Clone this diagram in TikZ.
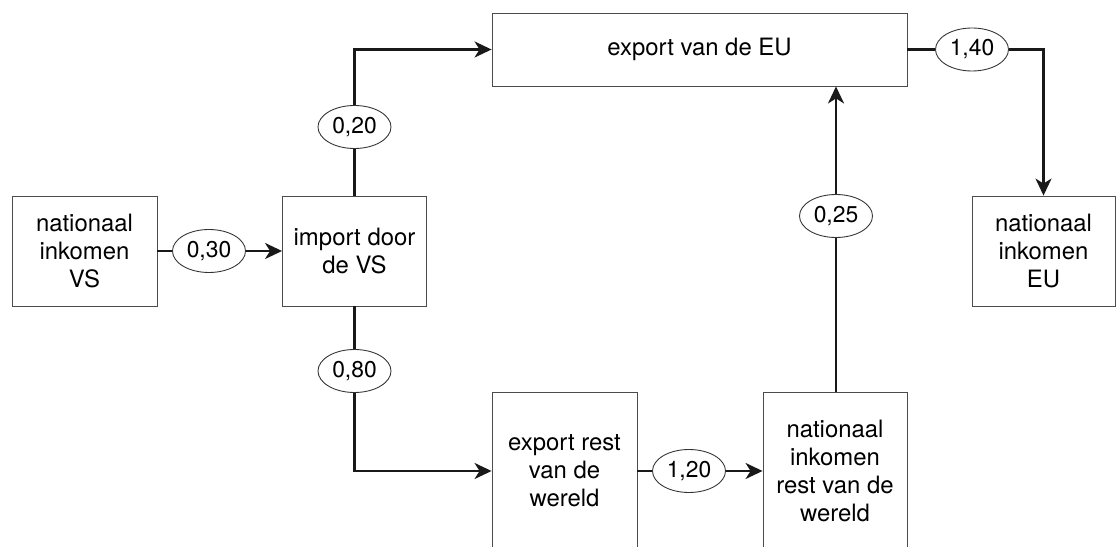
\documentclass[tikz,border=0pt]{standalone}
\usepackage{fontspec}
\setmainfont{TeX Gyre Heros}
\usepackage{tikz}
\usetikzlibrary{arrows.meta,shapes.geometric}

\begin{document}
\begin{tikzpicture}[
    box/.style={draw=black!70,line width=.5pt,align=center,
        minimum height=2.2cm,
        font={\fontsize{13.6}{15.9}\selectfont}},
    factor/.style={draw=black!80,ellipse,line width=.5pt,inner sep=0pt,
        minimum width=1.46cm,minimum height=.86cm,
        font={\fontsize{13}{14}\selectfont}},
    flow/.style={draw=black!90,line width=1.3pt},
    flowarrow/.style={flow,-{Stealth[length=3.4mm,width=3.2mm,inset=1mm]}},
    ]
    % Frame of the picture
    \path[use as bounding box,clip] (0,0) rectangle (22.34,10.94);
    % Boxes
    \node[box,minimum width=2.9cm]  (inkVS)  at (1.69,5.92)  {nationaal\\inkomen\\VS};
    \node[box,minimum width=2.88cm] (impVS)  at (7.09,5.92)  {import door\\de VS};
    \node[box,minimum width=8.3cm,minimum height=1.46cm]
                                    (expEU)  at (13.99,9.95) {export van de EU};
    \node[box,minimum width=2.86cm] (inkEU)  at (20.87,5.92) {nationaal\\inkomen\\EU};
    \node[box,minimum width=2.9cm,minimum height=3.16cm]
                                    (expRW)  at (11.29,1.52) {export rest\\van de\\wereld};
    \node[box,minimum width=2.88cm,minimum height=3.16cm]
                                    (inkRW)  at (16.70,1.52) {nationaal\\inkomen\\rest van de\\wereld};
    % Multipliers
    \node[factor] (f030) at (4.18,5.92)  {0,30};
    \node[factor] (f020) at (7.09,8.40)  {0,20};
    \node[factor] (f080) at (7.09,3.52)  {0,80};
    \node[factor] (f120) at (13.78,1.52) {1,20};
    \node[factor] (f025) at (16.72,6.62) {0,25};
    \node[factor] (f140) at (19.44,9.95) {1,40};
    % Flows
    \draw[flow] (inkVS) -- (f030);
    \draw[flowarrow] (f030) -- (impVS);
    \draw[flow] (impVS) -- (f020);
    \draw[flowarrow] (f020) |- (expEU.west);
    \draw[flow] (impVS) -- (f080);
    \draw[flowarrow] (f080) |- (expRW.west);
    \draw[flow] (expRW) -- (f120);
    \draw[flowarrow] (f120) -- (inkRW);
    \draw[flow] (inkRW.north -| f025) -- (f025);
    \draw[flowarrow] (f025) -- (f025 |- expEU.south);
    \draw[flow] (expEU) -- (f140);
    \draw[flowarrow] (f140) -| (inkEU.north);
\end{tikzpicture}
\end{document}
